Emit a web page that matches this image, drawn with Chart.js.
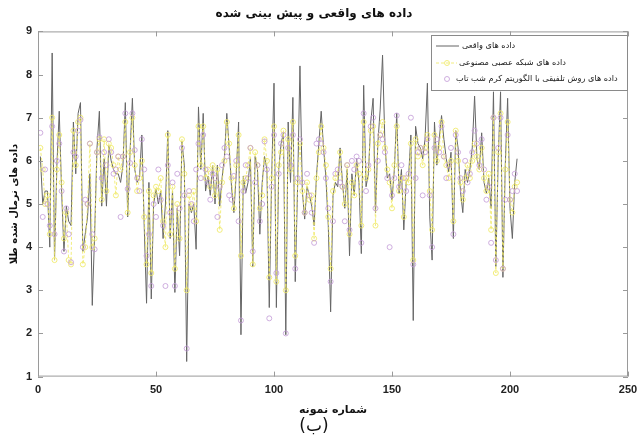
<!DOCTYPE html>
<html>
<head>
<meta charset="utf-8">
<script src="https://cdn.jsdelivr.net/npm/chart.js@4.4.0/dist/chart.umd.min.js"></script>
<style>
  html, body { margin: 0; padding: 0; background: #fff; }
</style>
</head>
<body>
<canvas id="myChart" width="640" height="437"></canvas>
<script>
// valores (muestra 1..203)
const realData = [
  6.1, 5.0, 5.3, 5.3, 4.0, 8.5, 3.7, 5.9, 7.15, 5.3,
  3.9, 4.95, 4.6, 4.5, 6.9, 5.7, 7.1, 7.35, 3.9, 4.3,
  4.7, 5.7, 2.65, 4.3, 6.3, 7.15, 4.95, 6.05, 4.95, 6.35,
  6.0, 5.8, 5.7, 5.7, 5.5, 5.9, 7.35, 4.7, 6.2, 7.45,
  5.8, 5.5, 5.6, 6.6, 4.5, 2.7, 5.5, 2.8, 5.0, 5.35,
  5.0, 5.3, 4.2, 5.0, 6.7, 4.2, 5.3, 2.95, 4.9, 3.8,
  6.45, 5.9, 1.35, 5.0, 4.8, 5.0, 3.95, 7.25, 5.8, 7.1,
  5.3, 5.65, 5.2, 5.9, 5.0, 5.9, 4.95, 5.6, 6.1, 7.1,
  6.3, 5.4, 4.8, 5.7, 6.9, 1.97, 5.65, 5.25, 5.5, 6.05,
  3.55, 6.1, 5.8, 4.3, 5.5, 6.1, 5.8, 2.6, 5.6, 7.8,
  2.6, 5.8, 6.4, 6.65, 1.97, 6.9, 5.5, 7.47, 3.2, 5.4,
  8.2, 5.3, 4.65, 5.4, 5.2, 4.95, 4.5, 5.65, 6.4, 7.15,
  6.3, 5.6, 4.5, 2.5, 5.2, 5.5, 5.4, 6.3, 5.5, 4.9,
  5.8, 3.8, 5.7, 5.2, 6.05, 5.5, 3.85, 7.75, 5.4, 5.7,
  6.9, 7.45, 4.8, 6.4, 7.2, 8.45, 6.4, 5.6, 5.7, 5.1,
  5.8, 7.1, 5.25, 5.8, 4.4, 5.5, 5.6, 6.6, 2.3, 6.8,
  6.4, 6.3, 6.05, 6.5, 7.8, 4.7, 3.7, 6.9, 5.9, 6.5,
  7.05, 6.5, 6.05, 5.75, 6.2, 4.2, 6.7, 6.3, 5.3, 4.8,
  5.8, 5.5, 5.8, 6.3, 7.5, 6.05, 5.8, 6.65, 5.5, 5.25,
  5.6, 4.9, 7.6, 3.55, 6.05, 7.6, 3.3, 5.9, 7.45, 4.9,
  4.2, 5.5, 6.05
];
const annData = [
  6.3, 5.8, 5.0, 5.2, 4.3, 7.0, 3.7, 5.8, 6.6, 5.5,
  4.2, 4.8, 3.7, 3.6, 6.7, 5.9, 6.9, 7.0, 3.6, 4.0,
  5.0, 6.4, 4.0, 4.2, 6.2, 6.5, 5.1, 6.5, 5.3, 6.4,
  6.3, 5.9, 5.2, 6.1, 5.8, 6.1, 6.9, 4.8, 6.2, 7.0,
  5.9, 5.3, 5.6, 6.0, 4.7, 3.6, 5.3, 3.4, 5.2, 5.4,
  5.3, 5.6, 4.6, 4.0, 6.6, 4.3, 5.4, 3.5, 5.0, 4.2,
  6.5, 5.7, 3.0, 5.2, 4.9, 5.3, 4.6, 6.8, 5.9, 6.8,
  5.6, 5.8, 5.4, 5.9, 5.2, 5.8, 4.4, 5.5, 6.0, 6.9,
  6.4, 5.6, 4.9, 5.9, 6.6, 3.8, 5.5, 5.6, 5.9, 6.3,
  3.6, 6.2, 5.9, 4.9, 5.2, 6.5, 6.0, 3.3, 5.6, 6.8,
  3.2, 5.9, 6.2, 6.7, 3.0, 6.5, 5.8, 6.9, 3.8, 5.5,
  6.4, 5.3, 4.8, 5.5, 5.1, 5.2, 4.2, 5.6, 6.2, 6.8,
  6.3, 5.9, 4.7, 3.5, 5.3, 5.6, 5.7, 6.2, 5.4, 5.0,
  5.9, 4.3, 5.5, 5.2, 5.9, 5.7, 4.5, 6.9, 5.6, 5.8,
  6.7, 6.8, 4.5, 6.4, 6.6, 6.9, 6.3, 5.8, 5.5, 4.9,
  5.9, 6.8, 5.3, 5.6, 4.7, 5.6, 5.5, 6.4, 3.7, 6.5,
  6.1, 6.3, 5.9, 6.3, 6.6, 5.3, 4.4, 6.6, 6.0, 6.3,
  6.9, 6.1, 5.9, 5.6, 6.0, 4.6, 6.7, 6.0, 5.5, 5.1,
  5.6, 5.9, 5.6, 6.0, 6.4, 6.1, 5.8, 6.3, 5.6, 5.3,
  5.7, 4.4, 7.0, 3.4, 6.2, 7.1, 3.5, 5.8, 6.9, 5.1,
  4.8, 5.4, 5.5
];
const hybridData = [
  6.65, 4.7, 5.8, 5.0, 4.5, 6.8, 4.3, 6.0, 6.4, 5.3,
  3.9, 4.9, 4.3, 3.65, 6.2, 6.1, 6.7, 6.95, 4.0, 5.1,
  5.0, 6.4, 4.3, 3.95, 6.2, 6.55, 5.6, 6.2, 5.9, 6.5,
  6.2, 5.7, 5.8, 6.1, 4.7, 6.1, 7.1, 5.35, 5.95, 7.1,
  6.25, 5.6, 5.3, 6.5, 5.8, 3.8, 4.3, 3.1, 5.0, 4.7,
  5.8, 5.1, 4.5, 3.1, 5.9, 4.8, 5.5, 3.1, 5.7, 4.9,
  6.3, 5.2, 1.65, 5.3, 5.0, 4.6, 5.8, 6.4, 5.6, 6.6,
  5.8, 5.5, 5.1, 5.7, 5.6, 4.7, 5.4, 5.9, 6.3, 6.1,
  5.2, 5.1, 5.65, 6.0, 4.6, 2.3, 5.3, 5.9, 5.6, 6.3,
  3.9, 5.5, 5.9, 4.6, 5.0, 6.45, 5.8, 2.35, 5.4, 6.6,
  3.4, 5.7, 6.4, 6.6, 2.0, 6.3, 5.9, 6.6, 3.5, 5.6,
  6.5, 5.5, 4.8, 5.7, 5.2, 4.8, 4.1, 6.4, 6.5, 6.4,
  6.2, 5.6, 4.9, 3.2, 4.6, 5.7, 5.8, 5.5, 5.4, 4.6,
  5.9, 4.4, 6.0, 5.8, 6.1, 6.0, 4.1, 7.1, 5.3, 5.9,
  6.8, 7.0, 4.9, 6.0, 6.6, 6.5, 6.2, 5.6, 4.0, 5.2,
  5.6, 7.05, 5.4, 5.9, 5.6, 5.3, 5.7, 7.0, 3.6, 5.6,
  6.2, 6.3, 5.2, 6.2, 6.5, 5.2, 4.0, 6.3, 6.5, 6.2,
  6.8, 6.1, 5.6, 5.9, 6.3, 4.3, 6.6, 6.2, 5.6, 5.3,
  6.0, 5.5, 5.7, 6.2, 6.7, 6.4, 5.9, 6.5, 5.8, 5.1,
  5.4, 4.1, 7.0, 3.7, 6.3, 7.0, 3.5, 5.1, 6.6, 5.1,
  5.3, 5.7, 5.3
];
const sampleNo = realData.map((v, i) => i + 1); // número de muestra
const xTicks = [0, 50, 100, 150, 200, 250];
const yTicks = [1, 2, 3, 4, 5, 6, 7, 8, 9];

const legendLabels = [
  'داده های واقعی',
  'داده های شبکه عصبی مصنوعی',
  'داده های روش تلفیقی با الگوریتم کرم شب تاب'
];

const GRAY = '#656565';
const YELLOW = 'rgba(240,234,105,0.85)';
const PURPLE = 'rgba(195,155,215,0.8)';
const AXIS = '#9a9a9a';

const toPoints = (arr) => arr.map((v, i) => ({ x: sampleNo[i], y: v }));

// caja completa + marcas hacia dentro + leyenda dentro del área
const boxPlugin = {
  id: 'boxPlugin',
  afterDraw(chart) {
    const { ctx, chartArea: a, scales } = chart;
    ctx.save();
    ctx.strokeStyle = AXIS;
    ctx.lineWidth = 1;
    ctx.strokeRect(a.left + 0.5, a.top + 0.5, a.right - a.left - 1, a.bottom - a.top - 1);
    ctx.beginPath();
    xTicks.forEach((t) => {
      const px = Math.round(scales.x.getPixelForValue(t)) + 0.5;
      ctx.moveTo(px, a.bottom); ctx.lineTo(px, a.bottom - 5);
      ctx.moveTo(px, a.top); ctx.lineTo(px, a.top + 5);
    });
    yTicks.forEach((t) => {
      const py = Math.round(scales.y.getPixelForValue(t)) + 0.5;
      ctx.moveTo(a.left, py); ctx.lineTo(a.left + 5, py);
      ctx.moveTo(a.right, py); ctx.lineTo(a.right - 5, py);
    });
    ctx.stroke();

    // leyenda
    const lx = 431, ly = 35, lw = 196, lh = 55;
    ctx.fillStyle = '#fff';
    ctx.fillRect(lx, ly, lw, lh);
    ctx.strokeStyle = '#8a8a8a';
    ctx.strokeRect(lx + 0.5, ly + 0.5, lw, lh);
    const rows = [46, 63, 79];
    // muestra 1: línea gris
    ctx.strokeStyle = GRAY;
    ctx.beginPath(); ctx.moveTo(436, rows[0]); ctx.lineTo(459, rows[0]); ctx.stroke();
    // muestra 2: línea discontinua amarilla + círculo
    ctx.strokeStyle = YELLOW;
    ctx.setLineDash([3, 2]);
    ctx.beginPath(); ctx.moveTo(436, rows[1]); ctx.lineTo(457, rows[1]); ctx.stroke();
    ctx.setLineDash([]);
    ctx.beginPath(); ctx.arc(447, rows[1], 2.5, 0, Math.PI * 2); ctx.stroke();
    // muestra 3: círculo morado
    ctx.strokeStyle = PURPLE;
    ctx.beginPath(); ctx.arc(447, rows[2], 2.5, 0, Math.PI * 2); ctx.stroke();

    ctx.fillStyle = '#222';
    ctx.font = '8.2px "DejaVu Sans"';
    ctx.textBaseline = 'middle';
    ctx.textAlign = 'left';
    ctx.fillText(legendLabels[0], 462, rows[0]);
    ctx.fillText(legendLabels[1], 459, rows[1]);
    ctx.fillText(legendLabels[2], 456, rows[2]);
    ctx.restore();
  }
};

const ctx = document.getElementById('myChart');
new Chart(ctx, {
  type: 'line',
  data: {
    datasets: [
      {
        label: legendLabels[2],
        data: toPoints(hybridData),
        showLine: false,
        pointRadius: 2.5,
        pointBorderWidth: 1,
        pointBorderColor: PURPLE,
        pointBackgroundColor: 'rgba(0,0,0,0)',
        order: 1
      },
      {
        label: legendLabels[1],
        data: toPoints(annData),
        borderColor: YELLOW,
        borderWidth: 1,
        borderDash: [3, 2],
        pointRadius: 2.5,
        pointBorderWidth: 1,
        pointBorderColor: YELLOW,
        pointBackgroundColor: 'rgba(0,0,0,0)',
        tension: 0,
        order: 2
      },
      {
        label: legendLabels[0],
        data: toPoints(realData),
        borderColor: GRAY,
        borderWidth: 1,
        pointRadius: 0,
        tension: 0,
        order: 3
      }
    ]
  },
  options: {
    responsive: false,
    animation: false,
    layout: { padding: { left: 0, right: 12, top: 0, bottom: 0 } },
    plugins: {
      legend: { display: false },
      tooltip: { enabled: false },
      title: {
        display: true,
        text: 'داده های واقعی و پیش بینی شده',
        color: '#111',
        font: { family: 'DejaVu Sans', size: 12, weight: 'bold' },
        padding: { top: 7, bottom: 10 }
      },
      subtitle: {
        display: true,
        position: 'bottom',
        text: '(ب)',
        color: '#111',
        font: { family: 'DejaVu Sans', size: 17 },
        padding: { top: 0, bottom: 0 }
      }
    },
    scales: {
      x: {
        type: 'linear',
        min: 0,
        max: 250,
        border: { display: false },
        grid: { display: false, drawTicks: false },
        ticks: {
          stepSize: 50,
          color: '#222',
          padding: 7,
          font: { family: 'Liberation Sans', size: 11, weight: 'bold' },
          maxRotation: 0
        },
        title: {
          display: true,
          text: 'شماره نمونه',
          color: '#111',
          font: { family: 'DejaVu Sans', size: 11, weight: 'bold' },
          padding: { top: 4, bottom: 0 }
        },
        afterFit: (scale) => {
          scale.height = 40;
          scale.paddingRight = 0; // el margen derecho lo da layout.padding
        }
      },
      y: {
        min: 1,
        max: 9,
        border: { display: false },
        grid: { display: false, drawTicks: false },
        ticks: {
          stepSize: 1,
          color: '#222',
          padding: 6,
          font: { family: 'Liberation Sans', size: 11, weight: 'bold' }
        },
        title: {
          display: true,
          text: 'داده های نرمال شده طلا',
          color: '#111',
          font: { family: 'DejaVu Sans', size: 10, weight: 'bold' },
          padding: { top: 8, bottom: 0 }
        },
        afterFit: (scale) => { scale.width = 38; }
      }
    }
  },
  plugins: [boxPlugin]
});
</script>
</body>
</html>
